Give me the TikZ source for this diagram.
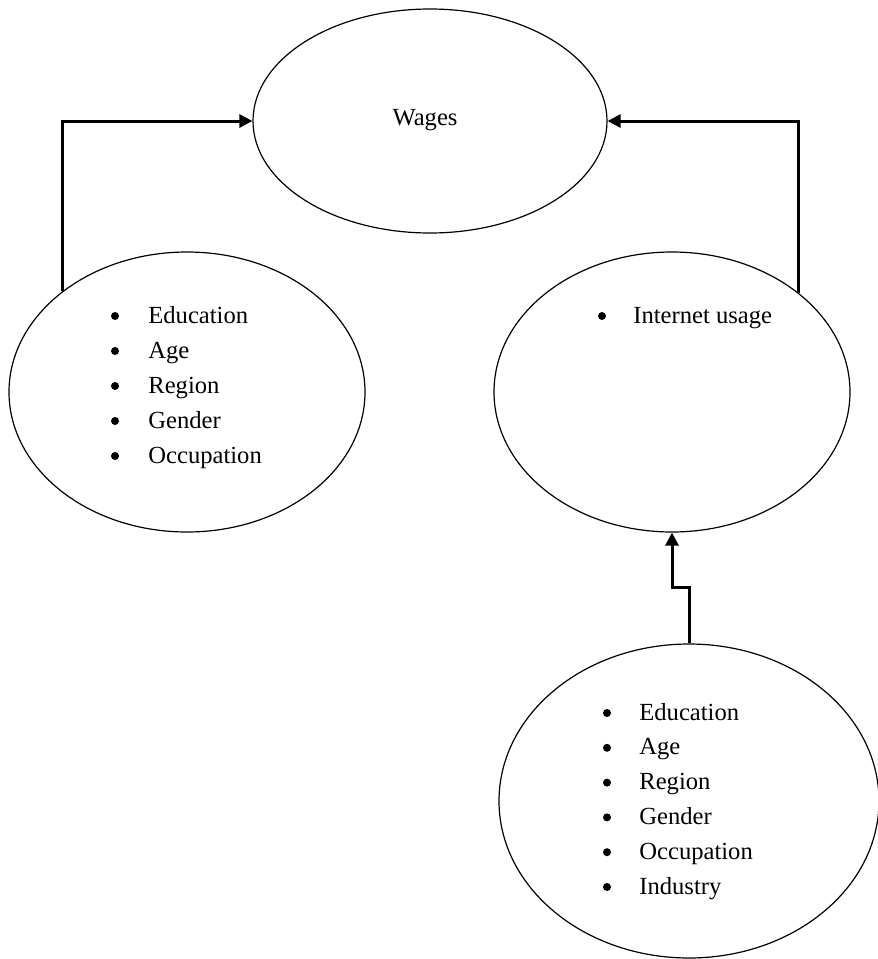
\documentclass[tikz,border=0pt]{standalone}
\usepackage{fontspec}
\setmainfont{Liberation Serif}
\usetikzlibrary{shapes.geometric,arrows.meta}
\begin{document}
\begin{tikzpicture}[x=0.5pt,y=-0.5pt,
  oval/.style={draw, ellipse, line width=0.6pt, inner sep=0pt},
  conn/.style={line width=1.5pt, -{Triangle[length=6.5pt,width=6.5pt]}},
  txt/.style={font=\fontsize{12.3}{15}\selectfont, inner sep=0pt, anchor=base west},
  bul/.style={font=\fontsize{12.3}{15}\selectfont, inner sep=0pt, anchor=base},
  dot/.style={circle, fill, inner sep=0pt, minimum size=4pt},
]
\useasboundingbox (0,0) rectangle (878,959);
% ellipses
\node[oval, minimum width=177pt, minimum height=112pt] (wages) at (430,121) {};
\node[oval, minimum width=178pt, minimum height=140pt] (left) at (187,392) {};
\node[oval, minimum width=178pt, minimum height=140pt] (right) at (672,392) {};
\node[oval, minimum width=190pt, minimum height=157pt] (bottom) at (689,801) {};
% texts
\node[bul] (wt) at (425,125) {Wages};
\foreach \t [count=\i] in {Education,Age,Region,Gender,Occupation}{
  \node[dot] (lb\i) at (115,{316+35*(\i-1)}) {};
  \node[txt] (lt\i) at (148,{323+35*(\i-1)}) {\t};
}
\node[dot] (rb1) at (602,316) {};
\node[txt] (rt1) at (633,323) {Internet usage};
\foreach \t [count=\i] in {Education,Age,Region,Gender,Occupation,Industry}{
  \node[dot] (bb\i) at (607,{713+34.8*(\i-1)}) {};
  \node[txt] (bt\i) at (639,{720+34.8*(\i-1)}) {\t};
}
% connectors
\draw[conn] (left.141.3) |- (wages.west);
\draw[conn] (right.38.4) |- (wages.east);
\draw[conn] (bottom.north) -- ++(0,-56) -| (right.south);
\end{tikzpicture}
\end{document}
